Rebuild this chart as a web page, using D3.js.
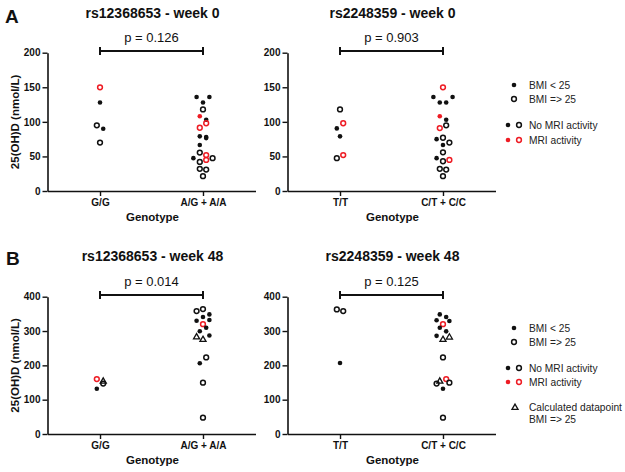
<!DOCTYPE html>
<html><head><meta charset="utf-8">
<script src="https://cdn.jsdelivr.net/npm/d3@7/dist/d3.min.js"></script>
<style>
html,body{margin:0;padding:0;background:#fff;}
svg{display:block;font-family:Arial,"Liberation Sans",sans-serif;}
</style></head>
<body>
<script>
// ---------- DATA ----------
// marker: "f" = filled (BMI < 25), "o" = open (BMI => 25), "t" = calculated datapoint (BMI => 25)
// mri: 1 = MRI activity (red), 0 = no MRI activity (black)
// slot: column position within the scatter (jitter column)

// Panel A left: rs12368653 - week 0
const groupsA1 = ["G/G", "A/G + A/A"];
const groupA1  = [0,0,0,0,0, 1,1,1,1,1,1,1,1,1,1,1,1,1,1,1,1,1,1,1,1,1];
const valuesA1 = [150,128,95,90,70, 136,136,128,118,108,103,98,91.5,79,78,76.5,66.5,55.5,52,47.5,47.5,45,42,32,31,21.5];
const markerA1 = ["o","f","o","f","o", "f","f","f","o","f","f","o","o","f","f","f","f","o","o","f","o","o","o","o","o","o"];
const mriA1    = [1,0,0,0,0, 0,0,0,0,1,0,1,1,0,0,0,0,0,1,0,0,1,0,0,0,0];
const slotA1   = [0,0,-1,1,0, -2,2,0,0,-1,1,1,-1,-1,1,1,-1,-1,1,-3,3,1,-1,-1,1,0];

// Panel A right: rs2248359 - week 0
const groupsA2 = ["T/T", "C/T + C/C"];
const groupA2  = [0,0,0,0,0,0, 1,1,1,1,1,1,1,1,1,1,1,1,1,1,1,1,1,1,1,1];
const valuesA2 = [118,98,90.5,79,52,47.5, 150,136,136,128,128,108,103,95,91,77,75,70,66.5,56,47.5,45,43,32,31,21.5];
const markerA2 = ["o","o","f","f","o","o", "o","f","f","f","f","f","f","o","o","o","f","o","f","o","f","o","o","o","o","o"];
const mriA2    = [0,1,0,0,1,0, 1,0,0,0,0,1,0,0,1,0,0,0,0,0,0,1,0,0,0,0];
const slotA2   = [0,1,-1,0,1,-1, 0,-3,3,-1,1,-1,1,1,-1,0,-2,2,0,0,-2,2,0,-1,1,0];

// Panel B left: rs12368653 - week 48
const groupsB1 = ["G/G", "A/G + A/A"];
const groupB1  = [0,0,0,0, 1,1,1,1,1,1,1,1,1,1,1,1,1,1,1,1];
const valuesB1 = [160,155,147,132, 364,358,348.5,341,332,330,320,309.5,299.5,287,284,276.5,223,206,149.5,47.5];
const markerB1 = ["o","t","o","f", "o","o","f","f","f","f","o","f","f","f","t","t","o","f","o","o"];
const mriB1    = [1,0,0,0, 0,0,0,0,0,0,1,0,0,0,0,0,0,0,0,0];
const slotB1   = [-1,1,1,-1, 0,-2,2,0,2,-2,0,1,-1,2,-2,0,1,-1,0,0];

// Panel B right: rs2248359 - week 48
const groupsB2 = ["T/T", "C/T + C/C"];
const groupB2  = [0,0,0, 1,1,1,1,1,1,1,1,1,1,1,1,1,1,1,1,1];
const valuesB2 = [363,358,207, 348.5,341,331.5,329,320,309.5,299,286,283.5,276.5,223,160,155,147,149.5,132,47.5];
const markerB2 = ["o","o","f", "f","f","f","f","o","f","f","f","t","t","o","o","t","o","o","f","o"];
const mriB2    = [0,0,0, 0,0,0,0,1,0,0,0,0,0,0,1,0,0,0,0,0];
const slotB2   = [-1,1,0, -1,1,-2,2,0,-1,1,-2,2,0,0,1,-1,-2,2,0,0];

const titles   = ["rs12368653 - week 0", "rs2248359 - week 0", "rs12368653 - week 48", "rs2248359 - week 48"];
const pValues  = ["p = 0.126", "p = 0.903", "p = 0.014", "p = 0.125"];
const ticksA   = [0, 50, 100, 150, 200];
const ticksB   = [0, 100, 200, 300, 400];
const yLabel   = "25(OH)D (nmol/L)";
const xLabel   = "Genotype";
const legendA  = ["BMI < 25", "BMI => 25", "No MRI activity", "MRI activity"];
const legendB  = ["BMI < 25", "BMI => 25", "No MRI activity", "MRI activity", "Calculated datapoint", "BMI => 25"];

// ---------- DRAW ----------
const W = 625, H = 472;
const RED = "#ee1c24", BLK = "#111";
const svg = d3.select("body").append("svg").attr("width", W).attr("height", H);
svg.append("rect").attr("width", W).attr("height", H).attr("fill", "#fff");

const slotScale = d3.scaleLinear().domain([-1, 1]).range([-3.2, 3.2]);
const triPath = d3.symbol().type(d3.symbolTriangle).size(16)();

function drawMarker(g, kind, red, x, y) {
  const col = red ? RED : BLK;
  if (kind === "f") {
    g.append("circle").attr("cx", x).attr("cy", y).attr("r", 2.3).attr("fill", col);
  } else if (kind === "o") {
    g.append("circle").attr("cx", x).attr("cy", y).attr("r", 2.4)
      .attr("fill", "none").attr("stroke", col).attr("stroke-width", 1.5);
  } else {
    g.append("path").attr("d", triPath).attr("transform", `translate(${x},${y + 0.6})`)
      .attr("fill", "none").attr("stroke", col).attr("stroke-width", 1.3).attr("stroke-linejoin", "miter");
  }
}

function panel(cfg) {
  const g = svg.append("g");
  const ax = cfg.axisX;
  const y = d3.scaleLinear().domain([0, cfg.ticks[cfg.ticks.length - 1]]).range([cfg.y0, cfg.y1]);
  const x = d3.scalePoint().domain(cfg.groups).range([ax, ax + 208]).padding(0.51);

  const ya = g.append("g").attr("transform", `translate(${ax},0)`)
    .call(d3.axisLeft(y).tickValues(cfg.ticks).tickSize(5).tickSizeOuter(0).tickPadding(2));
  const xa = g.append("g").attr("transform", `translate(0,${cfg.y0})`)
    .call(d3.axisBottom(x).tickSize(5).tickSizeOuter(0).tickPadding(3));
  [ya, xa].forEach(a => {
    a.select(".domain").attr("stroke", BLK).attr("stroke-width", 1.6);
    a.selectAll(".tick line").attr("stroke", BLK).attr("stroke-width", 1.4);
    a.selectAll(".tick text").attr("fill", "#111").style("font-size", "10px").style("font-weight", "bold")
      .style("font-family", "Arial,'Liberation Sans',sans-serif");
  });

  g.append("text").attr("x", ax + 105).attr("y", cfg.titleY).attr("text-anchor", "middle")
    .style("font-size", "14px").style("font-weight", "bold").attr("fill", "#111").text(cfg.title);
  const x0 = x(cfg.groups[0]), x1 = x(cfg.groups[1]);
  g.append("line").attr("x1", x0).attr("x2", x1).attr("y1", cfg.brY).attr("y2", cfg.brY)
    .attr("stroke", BLK).attr("stroke-width", 2);
  [x0, x1].forEach(xx => g.append("line").attr("x1", xx).attr("x2", xx)
    .attr("y1", cfg.brY - 4).attr("y2", cfg.brY + 4).attr("stroke", BLK).attr("stroke-width", 2));
  g.append("text").attr("x", (x0 + x1) / 2).attr("y", cfg.brY - 9).attr("text-anchor", "middle")
    .style("font-size", "13px").attr("fill", "#111").text(cfg.p);

  g.append("text").attr("x", (x0 + x1) / 2 + 1).attr("y", cfg.y0 + 30).attr("text-anchor", "middle")
    .style("font-size", "11.5px").style("font-weight", "bold").attr("fill", "#111").text(xLabel);
  if (cfg.showY) {
    g.append("text").attr("transform", `translate(19,${(cfg.y0 + cfg.y1) / 2}) rotate(-90)`)
      .attr("text-anchor", "middle").style("font-size", "11.5px").style("font-weight", "bold")
      .attr("fill", "#111").text(yLabel);
  }

  const pts = g.append("g");
  cfg.values.forEach((v, i) => {
    const px = x(cfg.groups[cfg.group[i]]) + slotScale(cfg.slot[i]);
    drawMarker(pts, cfg.marker[i], cfg.mri[i] === 1, px, y(v));
  });
}

panel({axisX: 47.5, y0: 191, y1: 52.7, ticks: ticksA, groups: groupsA1, group: groupA1, values: valuesA1,
  marker: markerA1, mri: mriA1, slot: slotA1, title: titles[0], p: pValues[0], titleY: 18, brY: 51, showY: true});
panel({axisX: 287.5, y0: 191, y1: 52.7, ticks: ticksA, groups: groupsA2, group: groupA2, values: valuesA2,
  marker: markerA2, mri: mriA2, slot: slotA2, title: titles[1], p: pValues[1], titleY: 18, brY: 51, showY: false});
panel({axisX: 47.5, y0: 434, y1: 296.7, ticks: ticksB, groups: groupsB1, group: groupB1, values: valuesB1,
  marker: markerB1, mri: mriB1, slot: slotB1, title: titles[2], p: pValues[2], titleY: 261, brY: 295, showY: true});
panel({axisX: 287.5, y0: 434, y1: 296.7, ticks: ticksB, groups: groupsB2, group: groupB2, values: valuesB2,
  marker: markerB2, mri: mriB2, slot: slotB2, title: titles[3], p: pValues[3], titleY: 261, brY: 295, showY: false});

svg.append("text").attr("x", 5).attr("y", 23).style("font-size", "19px").style("font-weight", "bold").attr("fill", "#111").text("A");
svg.append("text").attr("x", 6).attr("y", 265).style("font-size", "19px").style("font-weight", "bold").attr("fill", "#111").text("B");

function legend(labels, rows, withTri) {
  const g = svg.append("g").style("font-size", "10.2px").attr("fill", "#222");
  drawMarker(g, "f", false, 514, rows[0]);
  g.append("text").attr("x", 529).attr("y", rows[0] + 4).text(labels[0]);
  drawMarker(g, "o", false, 514, rows[1]);
  g.append("text").attr("x", 529).attr("y", rows[1] + 4).text(labels[1]);
  drawMarker(g, "f", false, 508, rows[2]);
  drawMarker(g, "o", false, 519, rows[2]);
  g.append("text").attr("x", 529).attr("y", rows[2] + 4).text(labels[2]);
  drawMarker(g, "f", true, 508, rows[3]);
  drawMarker(g, "o", true, 519, rows[3]);
  g.append("text").attr("x", 529).attr("y", rows[3] + 4).text(labels[3]);
  if (withTri) {
    drawMarker(g, "t", false, 515, rows[4]);
    g.append("text").attr("x", 529).attr("y", rows[4] + 4).text(labels[4]);
    g.append("text").attr("x", 529).attr("y", rows[5] + 4).text(labels[5]);
  }
}
legend(legendA, [85, 99, 125, 140], false);
legend(legendB, [328, 342, 368, 382, 407, 419], true);
</script>
</body></html>
